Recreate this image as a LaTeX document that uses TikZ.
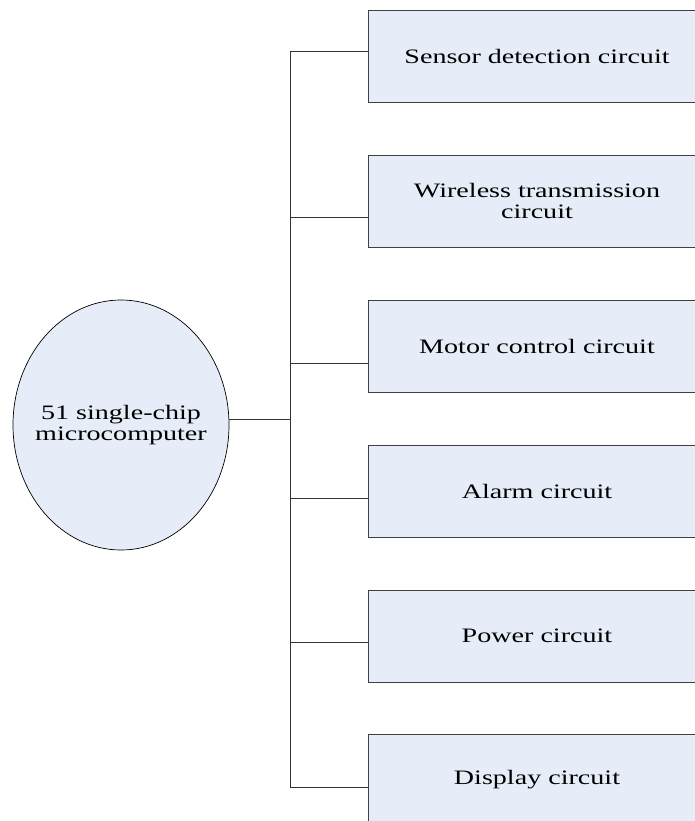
\documentclass[tikz,border=0pt]{standalone}
\usepackage{fontspec}
\setmainfont[FakeStretch=1.37]{Liberation Serif}
\usetikzlibrary{shapes.geometric}
\definecolor{boxfill}{RGB}{230,237,248}
\begin{document}
\begin{tikzpicture}[x=1pt,y=-1pt,
  every node/.style={font=\fontsize{20.5}{21}\selectfont},
  unit/.style={draw=black!75, fill=boxfill, line width=0.8pt, minimum width=338pt, minimum height=92pt, align=center, inner sep=0pt},
  mcustyle/.style={ellipse, draw=black, fill=boxfill, line width=0.7pt, minimum width=216pt, minimum height=250pt, inner sep=0pt},
  label/.style={align=center, inner sep=0pt},
  link/.style={draw=black!80, line width=0.8pt}]
\useasboundingbox (0,0) rectangle (695,821);
\clip (0,0) rectangle (695,821);
\node[unit] (b1) at (537,56.5) {Sensor detection circuit};
\node[unit] (b2) at (537,201) {Wireless transmission\\circuit};
\node[unit] (b3) at (537,346.5) {Motor control circuit};
\node[unit] (b4) at (537,491) {Alarm circuit};
\node[unit] (b5) at (537,636) {Power circuit};
\node[unit] (b6) at (537,780) {Display circuit};
\node[mcustyle] (mcu) at (121,425) {};
\node[label] (mcutext) at (mcu.center) {51 single-chip\\microcomputer};
\coordinate (j0) at (290,419);
\coordinate (j1) at (290,51);
\coordinate (j2) at (290,217);
\coordinate (j3) at (290,363);
\coordinate (j4) at (290,498);
\coordinate (j5) at (290,642);
\coordinate (j6) at (290,787);
\draw[link] (j1) -- (j6);
\draw[link] (j0 -| mcu.east) -- (j0);
\draw[link] (j1) -- (j1 -| b1.west);
\draw[link] (j2) -- (j2 -| b2.west);
\draw[link] (j3) -- (j3 -| b3.west);
\draw[link] (j4) -- (j4 -| b4.west);
\draw[link] (j5) -- (j5 -| b5.west);
\draw[link] (j6) -- (j6 -| b6.west);
\end{tikzpicture}
\end{document}
